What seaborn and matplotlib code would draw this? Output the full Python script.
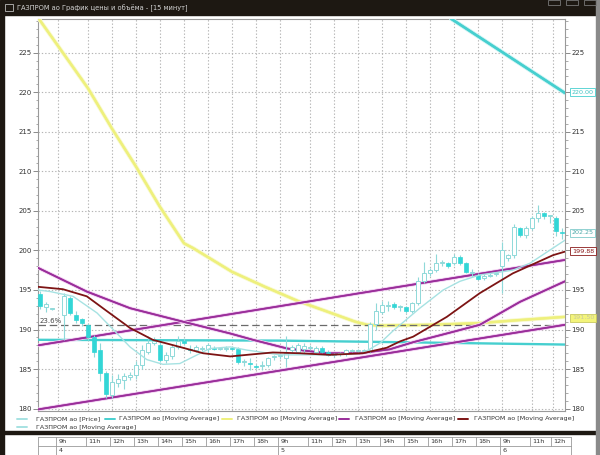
import numpy as np
import pandas as pd
import matplotlib
matplotlib.use("Agg")
import matplotlib.pyplot as plt
import matplotlib.transforms as mtrans
import matplotlib.patheffects as pe
from matplotlib.patches import Rectangle
from matplotlib.lines import Line2D
import seaborn as sns

sns.set_theme(style="white")
plt.rcParams['font.family'] = ['DejaVu Sans']

# ---------------- data ----------------
nan = np.nan
t_idx = list(range(88))
o = [194.5, 192.9, 192.6, nan, 191.9, 194.0, 191.9, 191.3, 190.6, 189.0,
     187.4, 184.5, 181.7, 183.3, 183.6, 184.0, 184.3, 185.5, 187.2, 188.3,
     188.1, 186.2, 186.6, 187.8, 188.6, 187.5, 187.4, 187.6, 187.6, 187.7,
     187.6, 187.6, 187.7, 187.6, 185.9, 185.8, 185.4, 185.4, 185.5, 186.5,
     186.6, 186.4, 187.4, 187.2, 187.6, 187.7, 187.2, 187.7, 187.2, 186.8,
     186.9, 186.9, 187.3, 187.3, 187.3, 187.4, 190.7, 192.2, 193.0, 193.2,
     192.8, 192.8, 192.3, 193.3, 196.1, 197.1, 197.5, 198.4, 198.4, 198.4,
     199.2, 198.4, 197.2, 196.9, 196.5, 196.8, 197.0, 198.0, 199.0, 199.4,
     202.8, 201.9, 202.8, 204.1, 204.7, 204.3, 204.1, 202.3]
h = [194.9, 193.5, 192.7, nan, 194.6, 194.3, 192.4, 191.5, 190.8, 189.3,
     188.3, 184.8, 184.3, 184.4, 184.5, 184.6, 186.0, 188.0, 189.2, 189.0,
     188.6, 187.2, 188.1, 189.2, 188.9, 188.0, 188.0, 187.9, 188.3, 187.9,
     187.8, 187.9, 187.9, 187.8, 186.3, 186.4, 185.7, 186.0, 186.5, 186.8,
     186.9, 189.2, 188.0, 188.3, 188.3, 188.0, 187.9, 187.9, 187.4, 187.0,
     187.1, 187.6, 187.5, 187.5, 187.6, 191.0, 193.3, 193.6, 193.6, 193.5,
     193.1, 193.0, 193.5, 196.6, 198.5, 197.8, 199.5, 198.8, 198.6, 199.5,
     199.4, 198.6, 197.6, 197.1, 197.0, 197.1, 197.3, 201.1, 199.6, 203.3,
     203.0, 203.1, 204.3, 205.7, 204.9, 204.5, 204.4, 202.8]
l = [192.6, 192.2, 192.5, nan, 188.7, 191.8, 190.8, 190.5, 188.7, 186.5,
     183.5, 181.3, 181.4, 182.7, 182.5, 183.6, 183.8, 185.0, 186.9, 188.0,
     185.9, 185.8, 186.3, 187.6, 188.0, 187.0, 187.1, 187.3, 186.8, 187.4,
     187.4, 187.3, 187.4, 185.7, 185.4, 184.9, 185.0, 184.9, 185.2, 186.2,
     186.3, 185.3, 187.1, 187.0, 187.0, 187.4, 187.0, 187.0, 186.6, 186.5,
     186.6, 186.7, 187.1, 187.1, 187.1, 187.0, 190.0, 192.0, 192.3, 192.6,
     192.4, 192.1, 192.1, 193.1, 195.9, 196.8, 197.3, 198.0, 197.8, 198.2,
     198.2, 197.1, 196.6, 196.2, 196.3, 196.6, 196.8, 194.6, 198.7, 199.0,
     201.7, 201.6, 202.6, 203.6, 204.0, 203.5, 201.8, 201.5]
c = [193.0, 193.2, 192.6, nan, 194.2, 192.1, 191.2, 190.8, 189.0, 187.2,
     184.5, 181.8, 183.4, 183.8, 184.1, 184.3, 185.5, 187.4, 188.3, 188.6,
     186.2, 186.8, 187.8, 188.5, 188.3, 187.4, 187.8, 187.6, 188.0, 187.6,
     187.6, 187.7, 187.6, 185.9, 185.9, 185.7, 185.3, 185.5, 186.4, 186.6,
     186.6, 187.0, 187.8, 188.0, 187.9, 187.7, 187.7, 187.2, 186.8, 186.8,
     186.9, 187.4, 187.3, 187.3, 187.4, 190.7, 192.3, 193.1, 193.0, 192.8,
     192.8, 192.3, 193.3, 196.1, 197.1, 197.5, 198.4, 198.4, 198.0, 199.2,
     198.4, 197.3, 197.2, 196.4, 196.8, 196.8, 197.0, 200.0, 199.4, 203.0,
     201.9, 202.8, 204.1, 204.7, 204.3, 204.3, 202.4, 202.25]

# moving averages / lines (sampled readings: slot index, value)
yellow_t = [-0.3, 8, 12, 16, 20, 24, 25.5, 32, 37.5, 43, 52.5, 54.5, 57, 65, 73, 80, 87.5]
yellow_v = [229.4, 220.5, 215.4, 210.6, 205.5, 200.9, 200.3, 197.3, 195.4, 193.6, 191.0, 190.6, 190.5, 190.6, 190.8, 191.2, 191.6]

cyan_steep_t = [68.5, 87.5]
cyan_steep_v = [229.3, 219.9]
cyan_flat_t = [-0.33, 40, 60, 87.5]
cyan_flat_v = [188.7, 188.6, 188.4, 188.1]

purple_ma_t = [-0.33, 7.8, 15, 23.8, 31.7, 35.5, 41.2, 47.8, 53.3, 58.3, 62.2, 68.3, 73.3, 80, 87.5]
purple_ma_v = [197.8, 194.8, 192.7, 191.0, 189.5, 188.7, 187.6, 187.0, 187.0, 187.5, 188.4, 189.6, 190.6, 193.5, 196.1]

chan_up_t = [-0.33, 87.5]
chan_up_v = [188.0, 198.8]
chan_lo_t = [-0.33, 87.5]
chan_lo_v = [179.9, 190.6]

red_ma_t = [-0.33, 3.8, 7.8, 11.2, 15, 18.8, 23.3, 27.2, 31.7, 34.5, 38.8, 43.3, 48.3, 53.8, 57.8, 60, 62.2, 67.8, 73.3, 78.8, 85.5, 87.5]
red_ma_v = [195.4, 195.1, 194.2, 192.3, 190.2, 188.7, 187.8, 187.0, 186.6, 186.8, 187.1, 187.0, 186.8, 187.0, 187.7, 188.5, 189.1, 191.6, 194.6, 197.1, 199.4, 199.85]

lc_ma_t = [-0.33, 1.7, 5.5, 9.5, 12.2, 15, 17.8, 20.5, 23.3, 26.2, 28.3, 31.7, 34.5, 40, 47.8, 53.8, 56.7, 58.8, 63.3, 67.2, 70, 73.3, 78.8, 81.7, 85.5, 87.5]
lc_ma_v = [195.0, 194.8, 194.2, 192.1, 190.0, 187.8, 186.2, 185.6, 185.7, 186.8, 187.6, 187.8, 187.4, 186.8, 186.8, 187.0, 188.3, 189.8, 192.7, 195.0, 196.1, 196.9, 197.5, 198.4, 200.3, 201.3]

fib_level = 190.6
fib_label = "23.6%"

time_pos = [3, 8, 12, 16, 20, 24, 28, 32, 36, 40, 45, 49, 53, 57, 61, 65, 69, 73, 77, 82, 85.5]
time_lbl = ["9h", "11h", "12h", "13h", "14h", "15h", "16h", "17h", "18h",
            "9h", "11h", "12h", "13h", "14h", "15h", "16h", "17h", "18h",
            "9h", "11h", "12h"]
day_pos = [3, 40, 77]
day_lbl = ["4", "5", "6"]

yticks = list(range(180, 230, 5))

title = "ГАЗПРОМ ао График цены и объёма - [15 минут]"
legend_labels = ["ГАЗПРОМ ао [Price]", "ГАЗПРОМ ао [Moving Average]", "ГАЗПРОМ ао [Moving Average]",
                 "ГАЗПРОМ ао [Moving Average]", "ГАЗПРОМ ао [Moving Average]", "ГАЗПРОМ ао [Moving Average]"]

# ---------------- colours ----------------
C_FILL = "#33d6d6"
C_EDGE = "#8fd9d9"
C_YEL = "#eef07c"
C_CYAN = "#46cfcf"
C_PURP = "#9a2e9a"
C_RED = "#7d1414"
C_LC = "#a6e2e2"

W, H = 600, 455
fx = lambda px: px / W
fy = lambda py: 1 - py / H

fig = plt.figure(figsize=(6, 4.55), dpi=100)
fig.patch.set_facecolor("white")

# window chrome
fig.add_artist(Rectangle((0, fy(15)), 1, 15 / H, transform=fig.transFigure, color="#1d1812", zorder=0))
fig.add_artist(Rectangle((0, fy(434)), fx(4), (434 - 15) / H, transform=fig.transFigure, color="#1d1812", zorder=0))
fig.add_artist(Rectangle((0, fy(455)), fx(4), 21 / H, transform=fig.transFigure, color="#1d1812", zorder=0))
fig.add_artist(Rectangle((0, fy(434)), 1, 3 / H, transform=fig.transFigure, color="#1d1812", zorder=0))
fig.add_artist(Rectangle((fx(596), 0), fx(4), 1, transform=fig.transFigure, color="#8a8a8a", zorder=0))
fig.add_artist(Rectangle((fx(5), fy(11)), fx(8), 7 / H, transform=fig.transFigure, fill=False,
                         ec="#bbbbbb", lw=0.6, zorder=1))
for bx in (548, 566, 584):
    fig.add_artist(Rectangle((fx(bx), fy(5)), fx(12), 5 / H, transform=fig.transFigure, fill=False,
                             ec="#777777", lw=0.6, zorder=1))
fig.text(fx(17), fy(8), title, color="#d4d4d4", fontsize=4.8, va="center", ha="left")

# main axes
ax = fig.add_axes([fx(38), fy(411), (565 - 38) / W, (411 - 19) / H])
ax.set_facecolor("white")

# lines (seaborn)
def sline(tt, vv, color, lw, z, glow=None):
    df = pd.DataFrame({"t": tt, "v": vv})
    sns.lineplot(data=df, x="t", y="v", ax=ax, color=color, lw=lw, zorder=z, sort=False,
                 estimator=None, legend=False)
    line = ax.lines[-1]
    if glow:
        line.set_path_effects([pe.withStroke(linewidth=lw + 1.4, foreground=glow), pe.Normal()])

sline(cyan_flat_t, cyan_flat_v, C_CYAN, 1.7, 3)
sline(cyan_steep_t, cyan_steep_v, C_CYAN, 1.7, 3, glow="#c8f2f2")
sline(yellow_t, yellow_v, C_YEL, 1.6, 3, glow="#f8f9cc")
sline(chan_up_t, chan_up_v, C_PURP, 1.2, 4, glow="#f1cdf1")
sline(chan_lo_t, chan_lo_v, C_PURP, 1.2, 4, glow="#f1cdf1")
sline(purple_ma_t, purple_ma_v, C_PURP, 1.2, 4, glow="#f1cdf1")
ax.axhline(fib_level, color="#6a6a6a", lw=0.9, dashes=(6, 3), zorder=3.5)
ax.text(-0.1, fib_level + 0.15, fib_label, fontsize=5, color="#444444", va="bottom", ha="left", zorder=6)

# candles
tt = np.array(t_idx, dtype=float)
O, Hh, L, C = map(np.array, (o, h, l, c))
valid = ~np.isnan(O)
ax.vlines(tt[valid], L[valid], Hh[valid], color=C_EDGE, lw=0.8, zorder=5)
up = valid & (C >= O)
dn = valid & (C < O)
bw = 0.66
body_up = np.maximum(C[up] - O[up], 0.12)
body_dn = np.maximum(O[dn] - C[dn], 0.12)
ax.bar(tt[up], body_up, bottom=O[up], width=bw, color="white", edgecolor=C_EDGE, lw=0.7, zorder=5.5)
ax.bar(tt[dn], body_dn, bottom=C[dn], width=bw, color=C_FILL, edgecolor=C_FILL, lw=0.5, zorder=5.5)

sline(lc_ma_t, lc_ma_v, C_LC, 1.0, 6)
sline(red_ma_t, red_ma_v, C_RED, 1.3, 6)

# axes styling
ax.set_xlim(-0.333, 87.5)
ax.set_ylim(179.70, 229.26)
ax.set_xlabel("")
ax.set_ylabel("")
ax.set_yticks(yticks)
ax.set_yticks(np.arange(180, 230, 1), minor=True)
ax.set_xticks(time_pos)
ax.set_xticklabels([])
ax.grid(True, which="major", color="#b5b5b5", linestyle=(0, (1.2, 1.8)), lw=0.8)
ax.tick_params(axis="x", length=0)
ax.tick_params(axis="y", which="major", length=3.5, width=0.6, color="#777777",
               labelsize=5, labelcolor="#333333", left=True, right=True,
               labelleft=True, labelright=True, pad=1)
ax.tick_params(axis="y", which="minor", length=1.8, width=0.5, color="#888888", left=True, right=True)
for s in ax.spines.values():
    s.set_color("#9a9a9a")
    s.set_linewidth(0.8)

# right value boxes (they cover the right tick labels 220 and 200)
hidden_right = (200, 220)
for tick, val in zip(ax.yaxis.get_major_ticks(), yticks):
    if val in hidden_right:
        tick.label2.set_visible(False)

bt = mtrans.blended_transform_factory(ax.transAxes, ax.transData)
boxes = [(220.0, "220.00", "#ffffff", C_CYAN, "#3fc4c4"),
         (202.25, "202.25", "#ffffff", "#7fcaca", "#4aa8a8"),
         (199.88, "199.88", "#ffffff", "#8b1a1a", "#8b1a1a"),
         (191.5, "191.50", "#f3f47a", "#c8c860", "#c9c9a0")]
for v, s, fc, ec, tc in boxes:
    ax.text(1.013, v, s, transform=bt, fontsize=4.6, color=tc, va="center", ha="left", zorder=10,
            clip_on=False, bbox=dict(boxstyle="square,pad=0.25", fc=fc, ec=ec, lw=0.6))

# legend (manual)
leg_rows = [(418.5, [(17, 36, C_LC), (105, 119, C_CYAN), (222, 237, C_YEL), (339, 355, C_PURP), (458, 474, C_RED)]),
            (427, [(17, 36, C_LC)])]
k = 0
for py, items in leg_rows:
    for sx, txx, col in items:
        fig.add_artist(Line2D([fx(sx), fx(sx + 10)], [fy(py), fy(py)], transform=fig.transFigure,
                              color=col, lw=1.4))
        fig.text(fx(txx), fy(py), legend_labels[k], fontsize=4.6, color="#333333", va="center", ha="left")
        k += 1

# time table below
tb = mtrans.blended_transform_factory(ax.transData, fig.transFigure)
x_left, x_right = -0.333, 88.5
for py in (437, 446, 455):
    fig.add_artist(Line2D([x_left, x_right], [fy(py), fy(py)], transform=tb, color="#9a9a9a", lw=0.6))
fig.add_artist(Line2D([x_left, x_left], [fy(437), fy(455)], transform=tb, color="#9a9a9a", lw=0.6))
fig.add_artist(Line2D([x_right, x_right], [fy(437), fy(455)], transform=tb, color="#9a9a9a", lw=0.6))
for p, s in zip(time_pos, time_lbl):
    fig.add_artist(Line2D([p - 0.3, p - 0.3], [fy(437), fy(446)], transform=tb, color="#9a9a9a", lw=0.6))
    fig.text(p + 0.05, fy(441.5), s, transform=tb, fontsize=4.6, color="#333333", va="center", ha="left")
for p, s in zip(day_pos, day_lbl):
    fig.add_artist(Line2D([p - 0.3, p - 0.3], [fy(446), fy(455)], transform=tb, color="#9a9a9a", lw=0.6))
    fig.text(p + 0.05, fy(450.5), s, transform=tb, fontsize=4.6, color="#333333", va="center", ha="left")

fig.savefig("out.png", dpi=100, facecolor=fig.get_facecolor())
